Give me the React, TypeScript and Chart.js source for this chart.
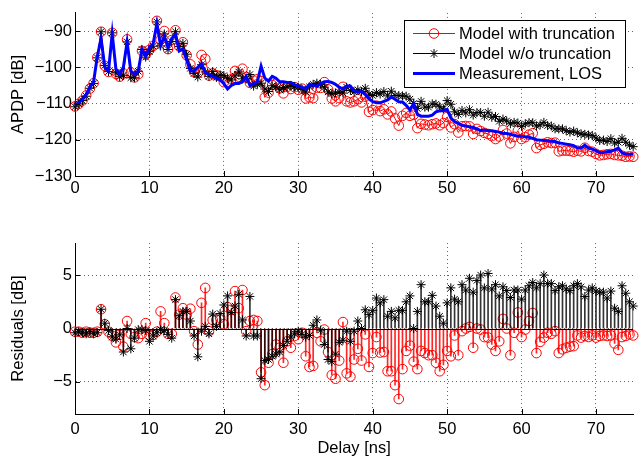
import React, { useEffect, useRef } from "react";
import { Chart, registerables } from "chart.js";

Chart.register(...registerables);

// Delay grid [ns]
const delays: number[] = [
  0, 0.5, 1, 1.5, 2, 2.5, 3, 3.5, 4, 4.5,
  5, 5.5, 6, 6.5, 7, 7.5, 8, 8.5, 9, 9.5,
  10, 10.5, 11, 11.5, 12, 12.5, 13, 13.5, 14, 14.5,
  15, 15.5, 16, 16.5, 17, 17.5, 18, 18.5, 19, 19.5,
  20, 20.5, 21, 21.5, 22, 22.5, 23, 23.5, 24, 24.5,
  25, 25.5, 26, 26.5, 27, 27.5, 28, 28.5, 29, 29.5,
  30, 30.5, 31, 31.5, 32, 32.5, 33, 33.5, 34, 34.5,
  35, 35.5, 36, 36.5, 37, 37.5, 38, 38.5, 39, 39.5,
  40, 40.5, 41, 41.5, 42, 42.5, 43, 43.5, 44, 44.5,
  45, 45.5, 46, 46.5, 47, 47.5, 48, 48.5, 49, 49.5,
  50, 50.5, 51, 51.5, 52, 52.5, 53, 53.5, 54, 54.5,
  55, 55.5, 56, 56.5, 57, 57.5, 58, 58.5, 59, 59.5,
  60, 60.5, 61, 61.5, 62, 62.5, 63, 63.5, 64, 64.5,
  65, 65.5, 66, 66.5, 67, 67.5, 68, 68.5, 69, 69.5,
  70, 70.5, 71, 71.5, 72, 72.5, 73, 73.5, 74, 74.5,
  75,
];

// APDP [dB] - Measurement, LOS (blue)
const measurement: number[] = [
  -110.5, -109.8, -108.8, -107.5, -105.5, -104, -97, -92, -100, -101,
  -90.8, -100.5, -102, -100, -93, -101, -102, -101, -95, -97,
  -94.5, -93.5, -88, -94, -91.5, -94.5, -92, -91, -95.5, -95,
  -98, -101, -101, -100, -99, -101.5, -102, -102.5, -103, -103.5,
  -104.5, -106, -105, -104.5, -104.5, -104, -102.5, -105, -104.5, -104,
  -99.7, -103, -103.8, -102.5, -103, -104, -104, -104.2, -104.2, -104.8,
  -105.2, -105.5, -106, -104.7, -105, -105.2, -104.5, -104, -103.9, -104.2,
  -104.7, -105.5, -106, -105.2, -105.2, -106.5, -106.9, -106.7, -107.5, -108.7,
  -109.5, -109.8, -109.8, -109.4, -109, -108.2, -108.8, -109.5, -109.6, -110.5,
  -111.8, -110, -113, -113.5, -113.5, -113.5, -113.2, -112.3, -112, -112,
  -111.6, -114, -115, -115.5, -116, -116.2, -116.4, -116.6, -117, -117.5,
  -117.3, -117.5, -117.5, -117.7, -117.9, -118.2, -118.3, -118.5, -118.8, -119,
  -119, -119.2, -119.3, -119.6, -120, -120.1, -120.2, -120.3, -120.4, -120.5,
  -120.9, -121, -121.2, -121.4, -121.6, -122.3, -122.3, -121.5, -122.3, -122.6,
  -123, -123.6, -123.5, -123.3, -123.2, -122.8, -122.3, -123.6, -124, -124,
  -124,
];

// APDP [dB] - Model with truncation (red circles)
const modelTrunc: number[] = [
  -110.8, -110.1, -109.2, -107.8, -105.9, -104.4, -97.3, -90.2, -99.6, -101.3,
  -90.5, -101.8, -102.6, -101.7, -92.3, -101.5, -102.8, -101.9, -95.5, -96.5,
  -95.2, -94.1, -87.2, -92.4, -90, -95, -92.5, -89.8, -94.2, -93.1,
  -96.7, -99.2, -101.3, -101.5, -96.6, -97.7, -102.3, -101.7, -102.2, -102.5,
  -104.1, -104, -103.3, -101, -102.6, -100.4, -102.8, -104.3, -103.7, -103.3,
  -103.8, -108.3, -107, -104.9, -104.5, -105.8, -107.2, -105.4, -106, -105.5,
  -106.2, -105.9, -108.6, -108.3, -108.5, -105.6, -105.7, -104.1, -106.1, -108.6,
  -109.4, -108.5, -105.4, -109.4, -109.7, -109.4, -108.8, -109.7, -108.1, -112.3,
  -111.8, -110.6, -112.1, -111.6, -113, -112.2, -114.1, -116.1, -113.4, -112.6,
  -113.4, -113.1, -116.8, -115.6, -115.8, -116, -115.7, -115.5, -116, -115.4,
  -113.7, -116.6, -115.7, -118, -116.3, -116.2, -116.3, -118.4, -117, -117.6,
  -118.1, -118.4, -119, -119.8, -119.1, -117.3, -118.3, -121, -119.2, -117.5,
  -119.8, -119.3, -118.6, -118.2, -122.3, -121.4, -121.1, -120.7, -120.9, -120.8,
  -123.2, -123, -123, -123.1, -123.3, -123, -123.2, -122.2, -123.1, -123.3,
  -123.9, -124.3, -124.2, -124, -123.9, -124.2, -124.3, -124.4, -124.7, -124.6,
  -124.7,
];

// APDP [dB] - Model w/o truncation (black stars)
const modelNoTrunc: number[] = [
  -110.9, -110.1, -109.2, -108, -105.8, -104.5, -97.4, -90.2, -99.5, -101.2,
  -90.5, -101.5, -102.6, -102.2, -93, -102.9, -102.9, -101.1, -95.1, -97.2,
  -95.7, -94.2, -87.5, -94.1, -90.8, -95.1, -92.9, -90.2, -94.3, -93.4,
  -96.4, -100.3, -101.7, -102.7, -99.3, -101.3, -102.5, -101.2, -102.8, -102.1,
  -102.3, -103, -103.5, -102.4, -101.3, -103.2, -103.2, -102, -105.2, -104.7,
  -104.4, -106, -106.7, -105.1, -105.4, -106.2, -105.6, -105.4, -105, -105.3,
  -105.5, -106.1, -106.8, -105.4, -104.7, -104.4, -104.7, -105.5, -106.8, -107.3,
  -107.1, -106.8, -107.1, -105.5, -106.4, -106.8, -106.2, -106.7, -105.8, -107.4,
  -107.8, -107, -107.4, -106.7, -107.9, -106.6, -107.8, -107.8, -107.9, -108,
  -108.8, -110, -111.4, -109.4, -111, -111, -110.1, -110.2, -110.9, -111.5,
  -109.2, -110.2, -112.3, -113, -111.9, -112.6, -111.7, -113.2, -112.5, -112.5,
  -113.5, -112.4, -113.8, -113.6, -114.9, -114.3, -114.8, -115.6, -115.2, -115.4,
  -116.3, -115.6, -115.3, -115.3, -116.2, -115.9, -115.2, -116.1, -116.2, -117,
  -117, -117, -117.5, -117.9, -117.6, -118.1, -118.4, -118.5, -118.7, -118.8,
  -119.5, -120.2, -120.1, -120.5, -119.7, -120.9, -120.7, -119.6, -120.7, -121.5,
  -121.9,
];

// Residuals [dB] - Model with truncation (red stems)
const residTrunc: number[] = [
  -0.3, -0.3, -0.4, -0.3, -0.4, -0.4, -0.3, 1.8, 0.4, -0.3,
  -0.7, -1.3, -0.6, -1.7, 0.7, -0.5, -0.8, -0.9, -0.5, 0.5,
  -0.65, -0.6, -0.3, 1.6, 0.5, -0.5, -0.5, 2.9, 1.3, 1.9,
  1.3, 1.85, -0.25, -1.5, 2.4, 3.8, -0.25, 0.8, 0.8, 1.0,
  0.4, 2.0, 1.75, 3.5, 1.9, 3.6, -0.25, 0.7, 0.8, 0.7,
  -4.1, -5.3, -3.2, -2.4, -1.5, -1.8, -3.2, -1.2, -1.8, -0.7,
  -1.0, -0.4, -2.6, -3.6, -3.5, -0.4, -1.2, -0.1, -2.2, -4.35,
  -4.7, -3.0, 0.6, -4.2, -4.5, -2.9, -1.9, -3.0, -0.55, -3.6,
  -2.3, -0.8, -2.25, -2.2, -4.0, -4.0, -5.3, -6.6, -3.8, -2.1,
  -1.6, -3.1, -3.8, -2.1, -2.3, -2.5, -2.5, -3.2, -4.0, -3.4,
  -2.1, -2.6, -0.65, -2.5, -0.25, 0.0, 0.15, -1.8, 0.0, -0.1,
  -0.8, -0.85, -1.5, -2.1, -1.2, 0.9, 0.0, -2.5, -0.4, 1.5,
  -0.8, -0.1, 0.7, 1.45, -2.3, -1.25, -0.85, -0.4, -0.5, -0.25,
  -2.3, -1.95, -1.8, -1.7, -1.65, -0.65, -0.85, -0.7, -0.8, -0.65,
  -0.85, -0.7, -0.65, -0.7, -0.65, -1.4, -2.0, -0.8, -0.7, -0.55,
  -0.65,
];

// Residuals [dB] - Model w/o truncation (black stems)
const residNoTrunc: number[] = [
  -0.4, -0.3, -0.4, -0.5, -0.3, -0.5, -0.4, 1.8, 0.5, -0.2,
  -0.8, -1.0, -0.6, -2.2, 0.0, -1.9, -0.9, -0.1, -0.1, -0.2,
  -1.2, -0.7, -0.4, -0.1, -0.2, -0.55, -0.9, 2.7, 1.2, 1.6,
  1.6, 0.7, -0.7, -2.65, -0.25, 0.2, -0.5, 1.35, 0.2, 1.4,
  2.2, 3.05, 1.5, 2.1, 3.2, 0.8, -0.7, 3.0, -0.7, -0.7,
  -4.7, -3.0, -2.9, -2.6, -2.4, -2.2, -1.6, -1.2, -0.8, -0.5,
  -0.25, -0.55, -0.8, -0.65, 0.3, 0.8, -0.15, -1.5, -2.9, -3.1,
  -2.4, -1.3, -1.1, -0.25, -1.2, -0.25, 0.7, 0.0, 1.75, 1.3,
  1.7, 2.85, 2.4, 2.7, 1.15, 1.6, 1.0, 1.7, 1.7, 2.5,
  3.05, 0.0, 1.6, 4.1, 2.5, 2.5, 3.1, 2.1, 1.15, 0.5,
  2.4, 3.8, 2.75, 2.5, 4.1, 3.6, 4.7, 3.4, 4.5, 5.0,
  3.8, 5.15, 3.7, 4.1, 3.05, 3.9, 3.55, 2.9, 3.6, 3.6,
  2.75, 3.6, 4.0, 4.3, 3.8, 4.2, 5.0, 4.2, 4.2, 3.55,
  3.9, 4.0, 3.7, 3.55, 4.0, 4.2, 3.9, 3.0, 3.6, 3.8,
  3.5, 3.4, 3.4, 2.85, 3.5, 1.9, 1.6, 4.0, 3.3, 2.5,
  2.1,
];

const seriesLabels: string[] = ["Model with truncation", "Model w/o truncation", "Measurement, LOS"];

const FONT_FAMILY = "'Liberation Sans', Arial, Helvetica, sans-serif";
const FS = 16.5;
const GRID_COLOR = "rgba(0,0,0,0.6)";
const RED = "#ff0000";
const BLACK = "#000000";
const BLUE = "#0000ff";
const CIRCLE_R = 4.8;
const STAR_R = 4.5;

const xy = (ys: number[]) => ys.map((y, i) => ({ x: delays[i], y }));
const fmt = (v: number | string) => {
  const n = Number(v);
  return n < 0 ? "\u2212" + Math.abs(n) : String(n);
};

function drawStar(ctx: CanvasRenderingContext2D, x: number, y: number, r: number) {
  const d = r * Math.SQRT1_2;
  ctx.beginPath();
  ctx.moveTo(x - r, y); ctx.lineTo(x + r, y);
  ctx.moveTo(x, y - r); ctx.lineTo(x, y + r);
  ctx.moveTo(x - d, y - d); ctx.lineTo(x + d, y + d);
  ctx.moveTo(x - d, y + d); ctx.lineTo(x + d, y - d);
  ctx.stroke();
}

const inwardTicks = {
  id: "inwardTicks",
  afterDraw(chart: any) {
    const { ctx, chartArea, scales } = chart;
    ctx.save();
    ctx.strokeStyle = "#000";
    ctx.lineWidth = 1;
    scales.x.ticks.forEach((t: any) => {
      const px = Math.round(scales.x.getPixelForValue(t.value)) + 0.5;
      ctx.beginPath();
      ctx.moveTo(px, chartArea.bottom);
      ctx.lineTo(px, chartArea.bottom - 5);
      ctx.stroke();
    });
    scales.y.ticks.forEach((t: any) => {
      const py = Math.round(scales.y.getPixelForValue(t.value)) + 0.5;
      ctx.beginPath();
      ctx.moveTo(chartArea.left, py);
      ctx.lineTo(chartArea.left + 5, py);
      ctx.stroke();
    });
    ctx.restore();
  },
};

const zeroLine = {
  id: "zeroLine",
  afterDatasetsDraw(chart: any) {
    const { ctx, chartArea, scales } = chart;
    const py = Math.round(scales.y.getPixelForValue(0)) + 0.5;
    ctx.save();
    ctx.strokeStyle = "#000";
    ctx.lineWidth = 1;
    ctx.beginPath();
    ctx.moveTo(chartArea.left, py);
    ctx.lineTo(chartArea.right, py);
    ctx.stroke();
    ctx.restore();
  },
};

const boxLegend = {
  id: "boxLegend",
  afterDraw(chart: any) {
    const { ctx, chartArea } = chart;
    const w = 221;
    const h = 67;
    const x0 = Math.round(chartArea.right - 8 - w);
    const y0 = Math.round(chartArea.top + 7);
    ctx.save();
    ctx.fillStyle = "#fff";
    ctx.fillRect(x0, y0, w, h);
    ctx.strokeStyle = "#000";
    ctx.lineWidth = 1;
    ctx.strokeRect(x0 + 0.5, y0 + 0.5, w, h);
    chart.data.datasets.forEach((ds: any, i: number) => {
      const cy = y0 + 13.5 + i * 20;
      const lx0 = x0 + 9;
      const lx1 = x0 + 51;
      ctx.strokeStyle = ds.borderColor;
      ctx.lineWidth = ds.borderWidth;
      ctx.beginPath();
      ctx.moveTo(lx0, cy);
      ctx.lineTo(lx1, cy);
      ctx.stroke();
      const mx = (lx0 + lx1) / 2;
      ctx.lineWidth = 1;
      if (ds.pointStyle === "circle" && ds.pointRadius > 0) {
        ctx.beginPath();
        ctx.arc(mx, cy, ds.pointRadius, 0, Math.PI * 2);
        ctx.stroke();
      } else if (ds.pointStyle === "star" && ds.pointRadius > 0) {
        drawStar(ctx, mx, cy, ds.pointRadius);
      }
      ctx.fillStyle = "#000";
      ctx.font = `${FS}px ${FONT_FAMILY}`;
      ctx.textAlign = "left";
      ctx.textBaseline = "middle";
      ctx.fillText(ds.label, x0 + 55, cy + 1);
    });
    ctx.restore();
  },
};

function xScale(axisHeight: number, tickPad: number, title?: string) {
  return {
    type: "linear",
    min: 0,
    max: 75,
    offset: false,
    ticks: {
      stepSize: 10,
      includeBounds: false,
      color: "#000",
      padding: tickPad,
      maxRotation: 0,
      autoSkip: false,
      font: { family: FONT_FAMILY, size: FS },
    },
    grid: { color: GRID_COLOR, drawTicks: false, offset: false, lineWidth: 1 },
    border: { display: true, color: "#000", width: 1, dash: [1, 3] },
    title: title
      ? {
          display: true,
          text: title,
          color: "#000",
          font: { family: FONT_FAMILY, size: FS, lineHeight: 1.2 },
          padding: { top: 0, bottom: 3 },
        }
      : { display: false },
    afterFit: (s: any) => {
      s.height = axisHeight;
      s.paddingRight = 0;
      s.paddingLeft = 0;
    },
  };
}

function yScale(min: number, max: number, step: number, title: string) {
  return {
    type: "linear",
    min,
    max,
    ticks: {
      stepSize: step,
      includeBounds: false,
      color: "#000",
      padding: 3,
      font: { family: FONT_FAMILY, size: FS },
      callback: (v: any) => fmt(v),
    },
    grid: { color: GRID_COLOR, drawTicks: false, lineWidth: 1 },
    border: { display: true, color: "#000", width: 1, dash: [1, 3] },
    title: {
      display: true,
      text: title,
      color: "#000",
      font: { family: FONT_FAMILY, size: FS, lineHeight: 1.2 },
      padding: { top: 9, bottom: 0 },
    },
    afterFit: (s: any) => {
      s.width = 75;
    },
  };
}

export default function App() {
  const topRef = useRef<HTMLCanvasElement>(null);
  const botRef = useRef<HTMLCanvasElement>(null);

  useEffect(() => {
    const top = new Chart(topRef.current as HTMLCanvasElement, {
      type: "line",
      data: {
        datasets: [
          {
            label: seriesLabels[0],
            data: xy(modelTrunc),
            borderColor: RED,
            borderWidth: 1,
            pointStyle: "circle",
            pointRadius: CIRCLE_R,
            pointBorderColor: RED,
            pointBackgroundColor: "rgba(0,0,0,0)",
            pointBorderWidth: 1,
            tension: 0,
            clip: false,
            order: 2,
          },
          {
            label: seriesLabels[1],
            data: xy(modelNoTrunc),
            borderColor: BLACK,
            borderWidth: 1,
            pointStyle: "star",
            pointRadius: STAR_R,
            pointBorderColor: BLACK,
            pointBorderWidth: 1,
            tension: 0,
            clip: false,
            order: 1,
          },
          {
            label: seriesLabels[2],
            data: xy(measurement),
            borderColor: BLUE,
            borderWidth: 3,
            pointRadius: 0,
            pointStyle: false,
            tension: 0,
            clip: false,
            order: 0,
          },
        ] as any,
      },
      options: {
        animation: false,
        responsive: false,
        devicePixelRatio: 1,
        layout: { padding: { top: 5, right: 0, bottom: 0, left: 0 } },
        plugins: { legend: { display: false }, tooltip: { enabled: false } },
        events: [],
        scales: {
          x: xScale(34, 3) as any,
          y: yScale(-130, -85, 10, "APDP [dB]") as any,
        },
      },
      plugins: [inwardTicks, boxLegend],
    });

    const bot = new Chart(botRef.current as HTMLCanvasElement, {
      type: "line",
      data: {
        datasets: [
          {
            type: "bar",
            label: "stemTrunc",
            data: xy(residTrunc),
            backgroundColor: "rgba(255,0,0,0.85)",
            borderWidth: 0,
            barThickness: 1,
            grouped: false,
            order: 4,
          },
          {
            type: "line",
            label: "markTrunc",
            data: xy(residTrunc),
            showLine: false,
            pointStyle: "circle",
            pointRadius: CIRCLE_R,
            pointBorderColor: RED,
            pointBackgroundColor: "rgba(0,0,0,0)",
            pointBorderWidth: 1,
            clip: false,
            order: 3,
          },
          {
            type: "bar",
            label: "stemNoTrunc",
            data: xy(residNoTrunc),
            backgroundColor: "rgba(0,0,0,0.8)",
            borderWidth: 0,
            barThickness: 1,
            grouped: false,
            order: 2,
          },
          {
            type: "line",
            label: "markNoTrunc",
            data: xy(residNoTrunc),
            showLine: false,
            pointStyle: "star",
            pointRadius: STAR_R,
            pointBorderColor: BLACK,
            pointBorderWidth: 1,
            clip: false,
            order: 1,
          },
        ] as any,
      },
      options: {
        animation: false,
        responsive: false,
        devicePixelRatio: 1,
        layout: { padding: { top: 13, right: 0, bottom: 0, left: 0 } },
        plugins: { legend: { display: false }, tooltip: { enabled: false } },
        events: [],
        scales: {
          x: xScale(47, 6, "Delay [ns]") as any,
          y: yScale(-8, 8, 5, "Residuals [dB]") as any,
        },
      },
      plugins: [inwardTicks, zeroLine],
    });

    return () => {
      top.destroy();
      bot.destroy();
    };
  }, []);

  return (
    <div style={{ position: "absolute", left: 0, top: 0, width: 639, height: 461, background: "#fff" }}>
      <canvas
        ref={topRef}
        width={639}
        height={210}
        style={{ position: "absolute", left: 0, top: 0, width: 639, height: 210 }}
      />
      <canvas
        ref={botRef}
        width={639}
        height={231}
        style={{ position: "absolute", left: 0, top: 230, width: 639, height: 231 }}
      />
    </div>
  );
}
